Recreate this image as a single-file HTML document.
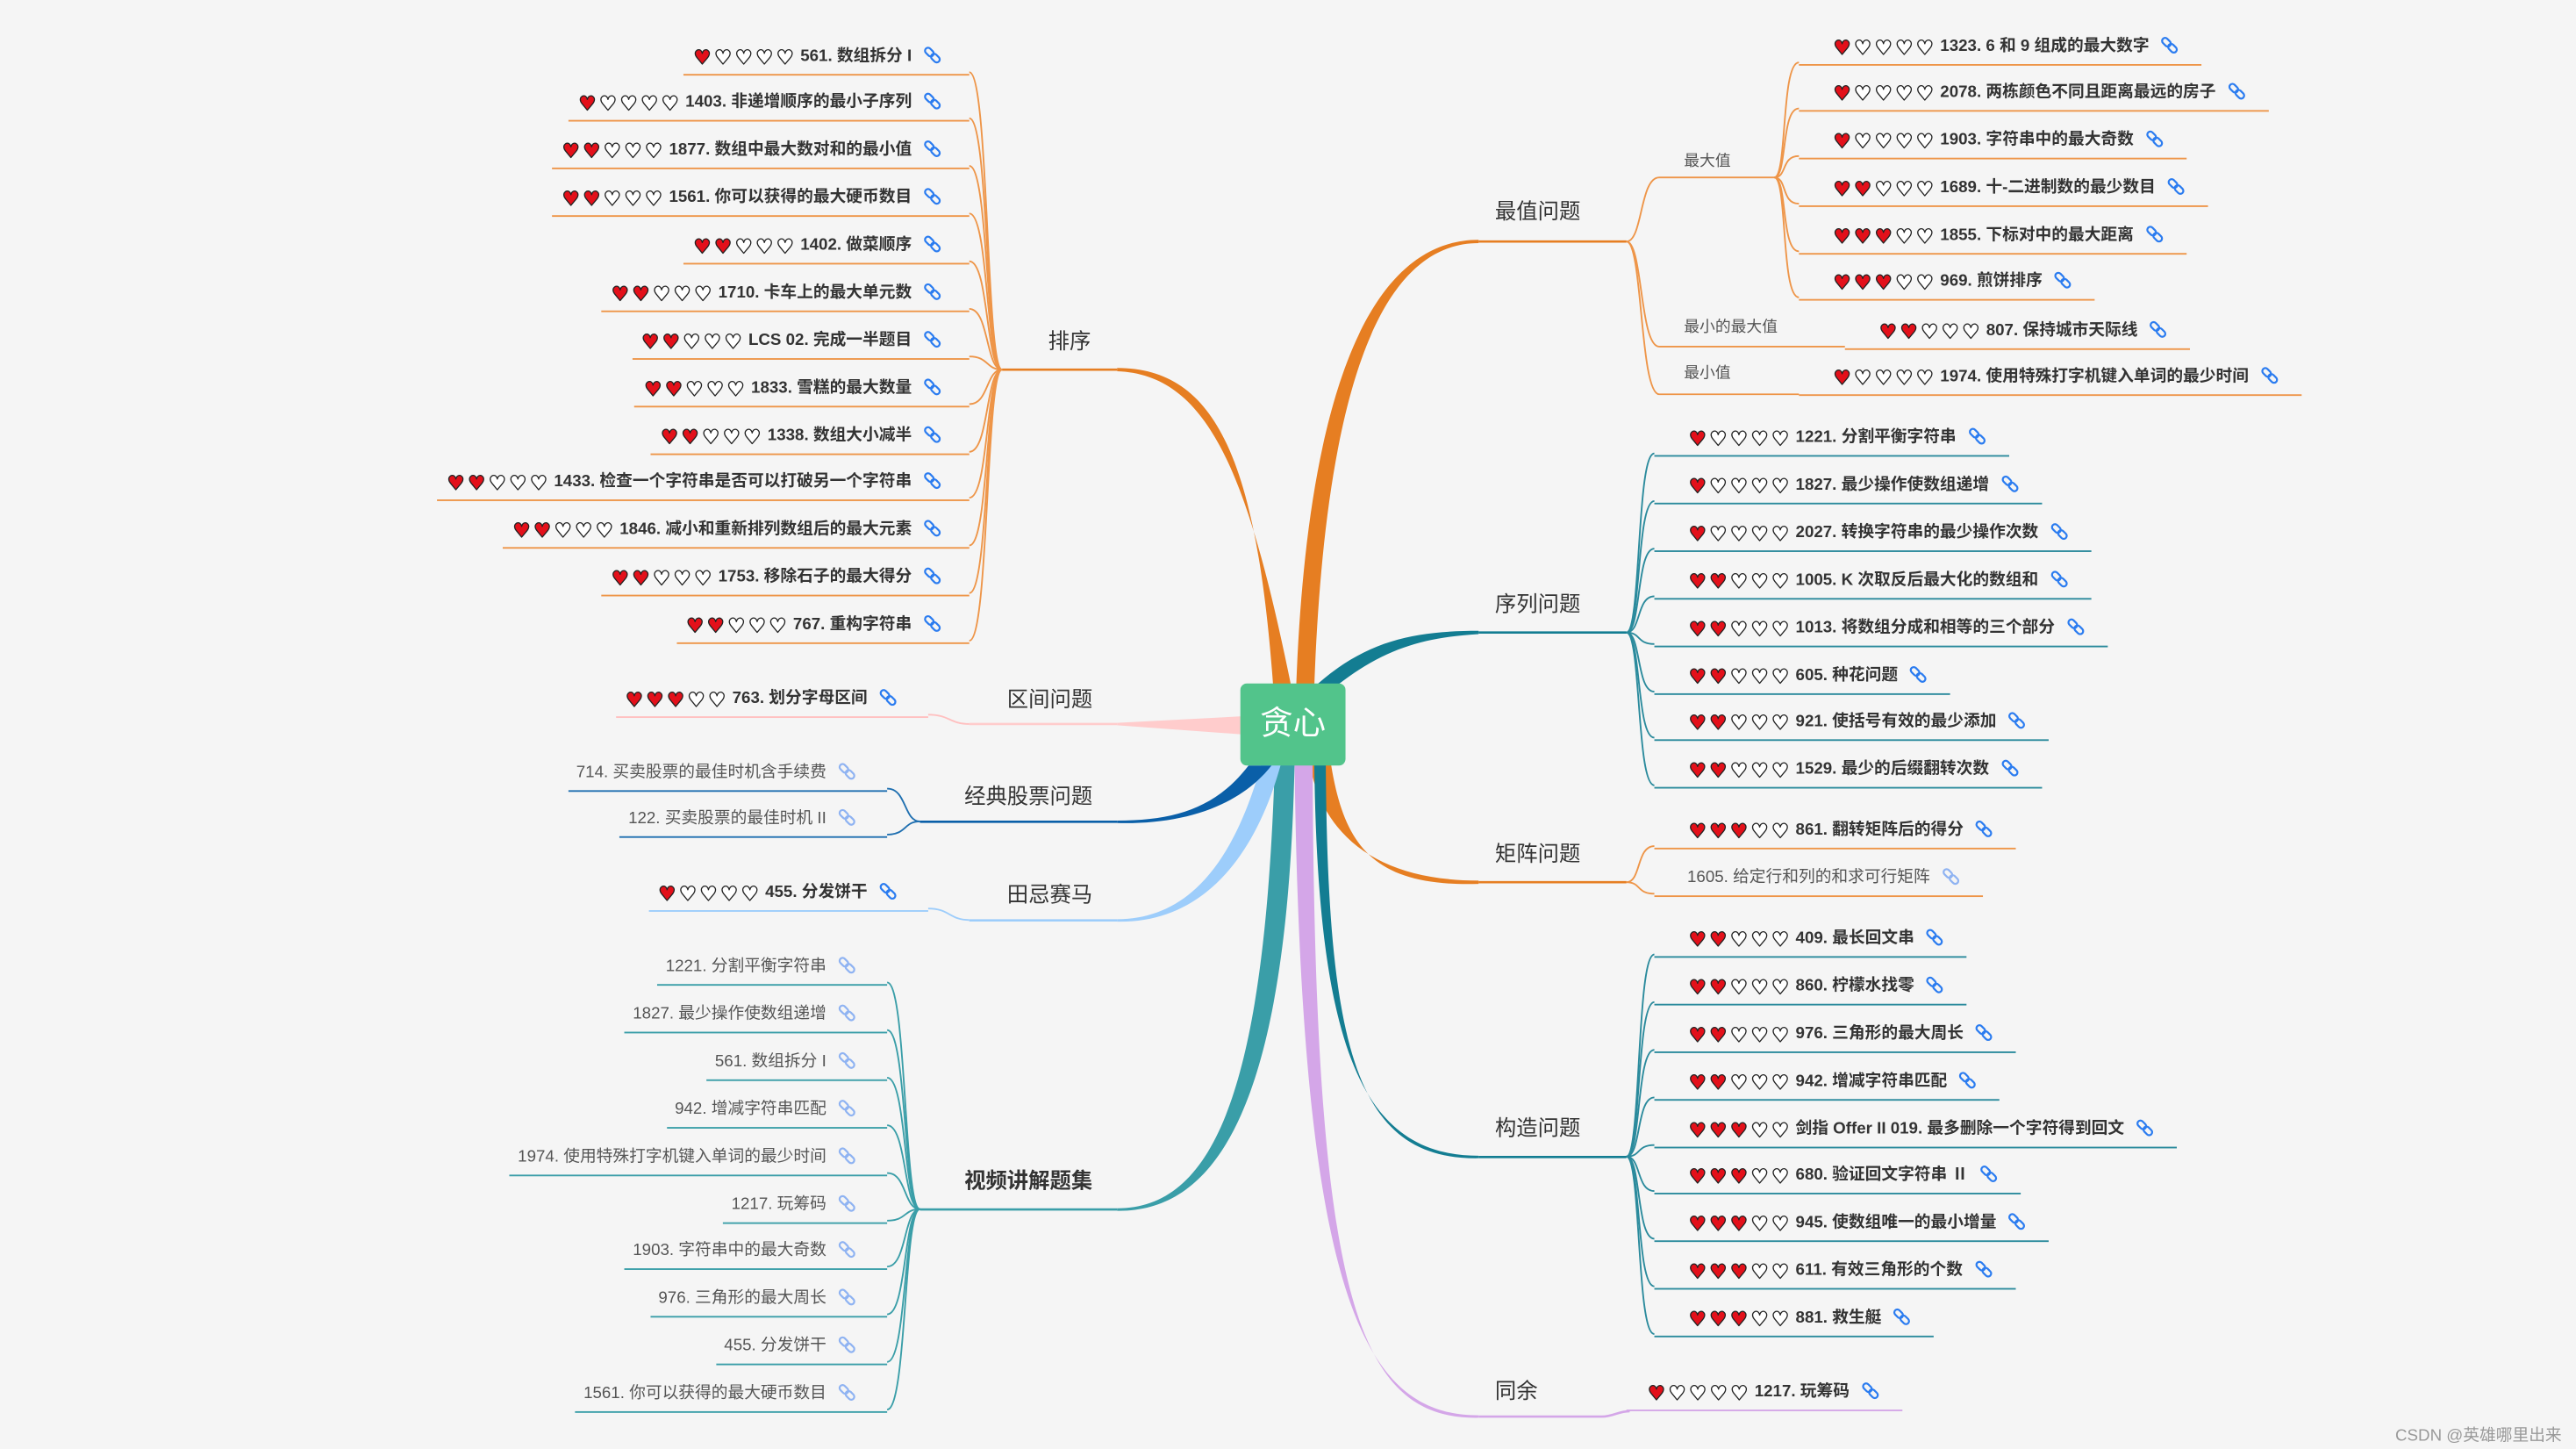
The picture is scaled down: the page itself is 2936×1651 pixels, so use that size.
<!DOCTYPE html>
<html><head><meta charset="utf-8">
<style>
html,body{margin:0;padding:0;background:#f5f5f5;width:2936px;height:1651px;overflow:hidden}
#c{position:relative;width:1568px;height:882px;transform:scale(1.87245,1.87188);transform-origin:0 0;font-family:"Liberation Sans","Noto Sans CJK SC",sans-serif}
svg.m{position:absolute;left:0;top:0}
.r,.l{position:absolute;margin-top:1.5px;white-space:nowrap;font-size:10px;line-height:14px;height:14px;color:#333;font-weight:bold;border-bottom:1px solid #ee9548}
.r{padding:0 14px 3px 20px}
.l{padding:0 17px 3px 5px;text-align:right}
.p{font-weight:normal;color:#555}
i{font-style:normal;display:inline-block;width:12.6px;text-align:center;font-family:"DejaVu Sans",sans-serif;font-size:12px;line-height:14px;color:#fff;-webkit-text-stroke:.7px #222;vertical-align:top}
i.a{color:#e3101a}
.t{margin-left:3px}
svg.k{width:11px;height:11px;margin-left:7px;vertical-align:-2px}
svg.k g{fill:none;stroke:#2b7cf0;stroke-width:1.3}
.p svg.k g{stroke:#8fb3f2}
.tp{position:absolute;font-size:13px;color:#333;white-space:nowrap;line-height:16px}
.sl{position:absolute;font-size:9.5px;color:#555;white-space:nowrap;line-height:12px}
.tl{border-color:#2a8a9c}.bl{border-color:#1f6fb0}.vl{border-color:#3a9ea8}.ll{border-color:#9dcdfb}.pk{border-color:#ffc0c0}
</style></head><body><div id="c">
<svg class="m" width="1568" height="882" viewBox="0 0 1568 882">
<path d="M775,418 C765,280 740,224 680,224 L680,226 C736,228 760,290 786,418 Z" fill="#e67e22"/>
<path d="M789,418 C795,250 830,146 900,146 L900,148 C836,148 806,250 800,418 Z" fill="#e67e22"/>
<path d="M798,420 C830,390 860,384 900,384 L900,386 C866,388 840,395 808,422 Z" fill="#137d92"/>
<path d="M797,464 C805,510 840,536 900,536 L900,538 C836,540 818,515 810,464 Z" fill="#e67e22"/>
<path d="M800,464 C802,640 830,703.5 900,703.5 L900,705 C826,706 808,640 807,464 Z" fill="#137d92"/>
<path d="M788,464 C792,790 830,861.5 900,861.5 L900,863 C826,864 800,790 799,464 Z" fill="#d4a6e8"/>
<path d="M776,464 C770,660 740,735.5 680,735.5 L680,737 C746,738 784,660 788,464 Z" fill="#3a9ea8"/>
<path d="M768,464 C750,530 720,559.5 680,559.5 L680,561 C726,562 762,530 780,464 Z" fill="#9dcdfb"/>
<path d="M760,466 C740,492 715,499.5 680,499.5 L680,501 C722,502 755,490 774,466 Z" fill="#0a5fa8"/>
<path d="M756,436 L680,440 L680,441.5 L756,447 Z" fill="#ffcccc"/>
<g fill="none" stroke-width="1.4">
<line x1="900" y1="147" x2="990" y2="147" stroke="#e67e22"/>
<line x1="900" y1="385" x2="990" y2="385" stroke="#137d92"/>
<line x1="900" y1="537" x2="990" y2="537" stroke="#e67e22"/>
<line x1="900" y1="704.3" x2="990" y2="704.3" stroke="#137d92"/>
<path d="M900,862.3 L975,862.3 C982,862.3 985,859 992,859" stroke="#d4a6e8"/>
<line x1="610" y1="225" x2="680" y2="225" stroke="#e67e22"/>
<line x1="590" y1="440.7" x2="680" y2="440.7" stroke="#ffcccc"/>
<line x1="560" y1="500.2" x2="680" y2="500.2" stroke="#0a5fa8"/>
<line x1="590" y1="560.2" x2="680" y2="560.2" stroke="#9dcdfb"/>
<line x1="560" y1="736.2" x2="680" y2="736.2" stroke="#3a9ea8"/>
</g>
<g fill="none" stroke="#ee9548" stroke-width="1">
<path d="M990,147 C1000,147 998,108 1010,108 L1080,108"/>
<path d="M990,147 C1000,147 998,211 1010,211 L1123,211"/>
<path d="M990,147 C1000,147 998,240 1010,240 L1095,240"/>
<path d="M1080,108 C1088,108 1084,38 1095,38"/>
<path d="M1080,108 C1088,108 1084,66 1095,66"/>
<path d="M1080,108 C1088,108 1084,95 1095,95"/>
<path d="M1080,108 C1088,108 1084,124 1095,124"/>
<path d="M1080,108 C1088,108 1084,153 1095,153"/>
<path d="M1080,108 C1088,108 1084,181 1095,181"/>
<path d="M990,537 C999,537 996,515 1007,515"/>
<path d="M990,537 C999,537 996,544 1007,544"/>
<path d="M610,225 C600,225 602,44 590,44"/>
<path d="M610,225 C600,225 602,72 590,72"/>
<path d="M610,225 C600,225 602,101 590,101"/>
<path d="M610,225 C600,225 602,130 590,130"/>
<path d="M610,225 C600,225 602,159 590,159"/>
<path d="M610,225 C600,225 602,188 590,188"/>
<path d="M610,225 C600,225 602,217 590,217"/>
<path d="M610,225 C600,225 602,246 590,246"/>
<path d="M610,225 C600,225 602,275 590,275"/>
<path d="M610,225 C600,225 602,303 590,303"/>
<path d="M610,225 C600,225 602,332 590,332"/>
<path d="M610,225 C600,225 602,361 590,361"/>
<path d="M610,225 C600,225 602,390 590,390"/>
</g>
<g fill="none" stroke="#2a8a9c" stroke-width="1">
<path d="M990,385 C999,385 996,276 1007,276"/>
<path d="M990,385 C999,385 996,305 1007,305"/>
<path d="M990,385 C999,385 996,334 1007,334"/>
<path d="M990,385 C999,385 996,363 1007,363"/>
<path d="M990,385 C999,385 996,392 1007,392"/>
<path d="M990,385 C999,385 996,421 1007,421"/>
<path d="M990,385 C999,385 996,449 1007,449"/>
<path d="M990,385 C999,385 996,478 1007,478"/>
<path d="M990,704 C999,704 996,581 1007,581"/>
<path d="M990,704 C999,704 996,610 1007,610"/>
<path d="M990,704 C999,704 996,639 1007,639"/>
<path d="M990,704 C999,704 996,668 1007,668"/>
<path d="M990,704 C999,704 996,697 1007,697"/>
<path d="M990,704 C999,704 996,725 1007,725"/>
<path d="M990,704 C999,704 996,754 1007,754"/>
<path d="M990,704 C999,704 996,783 1007,783"/>
<path d="M990,704 C999,704 996,812 1007,812"/>
</g>
<g fill="none" stroke="#3a9ea8" stroke-width="1">
<path d="M560,736 C550,736 552,598 540,598"/>
<path d="M560,736 C550,736 552,627 540,627"/>
<path d="M560,736 C550,736 552,656 540,656"/>
<path d="M560,736 C550,736 552,685 540,685"/>
<path d="M560,736 C550,736 552,714 540,714"/>
<path d="M560,736 C550,736 552,743 540,743"/>
<path d="M560,736 C550,736 552,771 540,771"/>
<path d="M560,736 C550,736 552,800 540,800"/>
<path d="M560,736 C550,736 552,829 540,829"/>
<path d="M560,736 C550,736 552,858 540,858"/>
</g>
<g fill="none" stroke-width="1">
<path d="M560,500 C550,500 552,480 540,480" stroke="#1f6fb0"/>
<path d="M560,500 C550,500 552,508 540,508" stroke="#1f6fb0"/>
<path d="M590,440.7 C578,440.7 578,435 565,435" stroke="#ffc0c0"/>
<path d="M590,560 C578,560 578,553 565,553" stroke="#9dcdfb"/>
</g>
</svg>

<div style="position:absolute;left:755px;top:416px;width:64px;height:50px;background:#52c48b;border-radius:4px;color:#fff;font-size:20px;line-height:50px;text-align:center">贪心</div>

<div class="tp" style="left:910px;top:121px">最值问题</div>
<div class="tp" style="left:910px;top:360px">序列问题</div>
<div class="tp" style="left:910px;top:512px">矩阵问题</div>
<div class="tp" style="left:910px;top:679px">构造问题</div>
<div class="tp" style="left:910px;top:839px">同余</div>
<div class="tp" style="left:638px;top:200px">排序</div>
<div class="tp" style="left:613px;top:418px">区间问题</div>
<div class="tp" style="left:587px;top:477px">经典股票问题</div>
<div class="tp" style="left:613px;top:537px">田忌赛马</div>
<div class="tp" style="left:587px;top:711px;font-weight:bold">视频讲解题集</div>
<div class="sl" style="left:1025px;top:93px">最大值</div>
<div class="sl" style="left:1025px;top:194px">最小的最大值</div>
<div class="sl" style="left:1025px;top:222px">最小值</div>

<div class="r" style="left:1095px;top:20px"><i class=a>♥</i><i>♥</i><i>♥</i><i>♥</i><i>♥</i><span class=t>1323. 6 和 9 组成的最大数字</span><svg class="k" viewBox="0 0 12 12"><g><rect x="2" y="0.8" width="4" height="6.5" rx="2" transform="rotate(-45 4 4)"/><rect x="6" y="4.8" width="4" height="6.5" rx="2" transform="rotate(-45 8 8)"/></g></svg></div>
<div class="r" style="left:1095px;top:48px"><i class=a>♥</i><i>♥</i><i>♥</i><i>♥</i><i>♥</i><span class=t>2078. 两栋颜色不同且距离最远的房子</span><svg class="k" viewBox="0 0 12 12"><g><rect x="2" y="0.8" width="4" height="6.5" rx="2" transform="rotate(-45 4 4)"/><rect x="6" y="4.8" width="4" height="6.5" rx="2" transform="rotate(-45 8 8)"/></g></svg></div>
<div class="r" style="left:1095px;top:77px"><i class=a>♥</i><i>♥</i><i>♥</i><i>♥</i><i>♥</i><span class=t>1903. 字符串中的最大奇数</span><svg class="k" viewBox="0 0 12 12"><g><rect x="2" y="0.8" width="4" height="6.5" rx="2" transform="rotate(-45 4 4)"/><rect x="6" y="4.8" width="4" height="6.5" rx="2" transform="rotate(-45 8 8)"/></g></svg></div>
<div class="r" style="left:1095px;top:106px"><i class=a>♥</i><i class=a>♥</i><i>♥</i><i>♥</i><i>♥</i><span class=t>1689. 十-二进制数的最少数目</span><svg class="k" viewBox="0 0 12 12"><g><rect x="2" y="0.8" width="4" height="6.5" rx="2" transform="rotate(-45 4 4)"/><rect x="6" y="4.8" width="4" height="6.5" rx="2" transform="rotate(-45 8 8)"/></g></svg></div>
<div class="r" style="left:1095px;top:135px"><i class=a>♥</i><i class=a>♥</i><i class=a>♥</i><i>♥</i><i>♥</i><span class=t>1855. 下标对中的最大距离</span><svg class="k" viewBox="0 0 12 12"><g><rect x="2" y="0.8" width="4" height="6.5" rx="2" transform="rotate(-45 4 4)"/><rect x="6" y="4.8" width="4" height="6.5" rx="2" transform="rotate(-45 8 8)"/></g></svg></div>
<div class="r" style="left:1095px;top:163px"><i class=a>♥</i><i class=a>♥</i><i class=a>♥</i><i>♥</i><i>♥</i><span class=t>969. 煎饼排序</span><svg class="k" viewBox="0 0 12 12"><g><rect x="2" y="0.8" width="4" height="6.5" rx="2" transform="rotate(-45 4 4)"/><rect x="6" y="4.8" width="4" height="6.5" rx="2" transform="rotate(-45 8 8)"/></g></svg></div>
<div class="r" style="left:1123px;top:193px"><i class=a>♥</i><i class=a>♥</i><i>♥</i><i>♥</i><i>♥</i><span class=t>807. 保持城市天际线</span><svg class="k" viewBox="0 0 12 12"><g><rect x="2" y="0.8" width="4" height="6.5" rx="2" transform="rotate(-45 4 4)"/><rect x="6" y="4.8" width="4" height="6.5" rx="2" transform="rotate(-45 8 8)"/></g></svg></div>
<div class="r" style="left:1095px;top:221px"><i class=a>♥</i><i>♥</i><i>♥</i><i>♥</i><i>♥</i><span class=t>1974. 使用特殊打字机键入单词的最少时间</span><svg class="k" viewBox="0 0 12 12"><g><rect x="2" y="0.8" width="4" height="6.5" rx="2" transform="rotate(-45 4 4)"/><rect x="6" y="4.8" width="4" height="6.5" rx="2" transform="rotate(-45 8 8)"/></g></svg></div>

<div class="r tl" style="left:1007px;top:258px"><i class=a>♥</i><i>♥</i><i>♥</i><i>♥</i><i>♥</i><span class=t>1221. 分割平衡字符串</span><svg class="k" viewBox="0 0 12 12"><g><rect x="2" y="0.8" width="4" height="6.5" rx="2" transform="rotate(-45 4 4)"/><rect x="6" y="4.8" width="4" height="6.5" rx="2" transform="rotate(-45 8 8)"/></g></svg></div>
<div class="r tl" style="left:1007px;top:287px"><i class=a>♥</i><i>♥</i><i>♥</i><i>♥</i><i>♥</i><span class=t>1827. 最少操作使数组递增</span><svg class="k" viewBox="0 0 12 12"><g><rect x="2" y="0.8" width="4" height="6.5" rx="2" transform="rotate(-45 4 4)"/><rect x="6" y="4.8" width="4" height="6.5" rx="2" transform="rotate(-45 8 8)"/></g></svg></div>
<div class="r tl" style="left:1007px;top:316px"><i class=a>♥</i><i>♥</i><i>♥</i><i>♥</i><i>♥</i><span class=t>2027. 转换字符串的最少操作次数</span><svg class="k" viewBox="0 0 12 12"><g><rect x="2" y="0.8" width="4" height="6.5" rx="2" transform="rotate(-45 4 4)"/><rect x="6" y="4.8" width="4" height="6.5" rx="2" transform="rotate(-45 8 8)"/></g></svg></div>
<div class="r tl" style="left:1007px;top:345px"><i class=a>♥</i><i class=a>♥</i><i>♥</i><i>♥</i><i>♥</i><span class=t>1005. K 次取反后最大化的数组和</span><svg class="k" viewBox="0 0 12 12"><g><rect x="2" y="0.8" width="4" height="6.5" rx="2" transform="rotate(-45 4 4)"/><rect x="6" y="4.8" width="4" height="6.5" rx="2" transform="rotate(-45 8 8)"/></g></svg></div>
<div class="r tl" style="left:1007px;top:374px"><i class=a>♥</i><i class=a>♥</i><i>♥</i><i>♥</i><i>♥</i><span class=t>1013. 将数组分成和相等的三个部分</span><svg class="k" viewBox="0 0 12 12"><g><rect x="2" y="0.8" width="4" height="6.5" rx="2" transform="rotate(-45 4 4)"/><rect x="6" y="4.8" width="4" height="6.5" rx="2" transform="rotate(-45 8 8)"/></g></svg></div>
<div class="r tl" style="left:1007px;top:403px"><i class=a>♥</i><i class=a>♥</i><i>♥</i><i>♥</i><i>♥</i><span class=t>605. 种花问题</span><svg class="k" viewBox="0 0 12 12"><g><rect x="2" y="0.8" width="4" height="6.5" rx="2" transform="rotate(-45 4 4)"/><rect x="6" y="4.8" width="4" height="6.5" rx="2" transform="rotate(-45 8 8)"/></g></svg></div>
<div class="r tl" style="left:1007px;top:431px"><i class=a>♥</i><i class=a>♥</i><i>♥</i><i>♥</i><i>♥</i><span class=t>921. 使括号有效的最少添加</span><svg class="k" viewBox="0 0 12 12"><g><rect x="2" y="0.8" width="4" height="6.5" rx="2" transform="rotate(-45 4 4)"/><rect x="6" y="4.8" width="4" height="6.5" rx="2" transform="rotate(-45 8 8)"/></g></svg></div>
<div class="r tl" style="left:1007px;top:460px"><i class=a>♥</i><i class=a>♥</i><i>♥</i><i>♥</i><i>♥</i><span class=t>1529. 最少的后缀翻转次数</span><svg class="k" viewBox="0 0 12 12"><g><rect x="2" y="0.8" width="4" height="6.5" rx="2" transform="rotate(-45 4 4)"/><rect x="6" y="4.8" width="4" height="6.5" rx="2" transform="rotate(-45 8 8)"/></g></svg></div>

<div class="r" style="left:1007px;top:497px"><i class=a>♥</i><i class=a>♥</i><i class=a>♥</i><i>♥</i><i>♥</i><span class=t>861. 翻转矩阵后的得分</span><svg class="k" viewBox="0 0 12 12"><g><rect x="2" y="0.8" width="4" height="6.5" rx="2" transform="rotate(-45 4 4)"/><rect x="6" y="4.8" width="4" height="6.5" rx="2" transform="rotate(-45 8 8)"/></g></svg></div>
<div class="r p" style="left:1007px;top:526px">1605. 给定行和列的和求可行矩阵<svg class="k" viewBox="0 0 12 12"><g><rect x="2" y="0.8" width="4" height="6.5" rx="2" transform="rotate(-45 4 4)"/><rect x="6" y="4.8" width="4" height="6.5" rx="2" transform="rotate(-45 8 8)"/></g></svg></div>

<div class="r tl" style="left:1007px;top:563px"><i class=a>♥</i><i class=a>♥</i><i>♥</i><i>♥</i><i>♥</i><span class=t>409. 最长回文串</span><svg class="k" viewBox="0 0 12 12"><g><rect x="2" y="0.8" width="4" height="6.5" rx="2" transform="rotate(-45 4 4)"/><rect x="6" y="4.8" width="4" height="6.5" rx="2" transform="rotate(-45 8 8)"/></g></svg></div>
<div class="r tl" style="left:1007px;top:592px"><i class=a>♥</i><i class=a>♥</i><i>♥</i><i>♥</i><i>♥</i><span class=t>860. 柠檬水找零</span><svg class="k" viewBox="0 0 12 12"><g><rect x="2" y="0.8" width="4" height="6.5" rx="2" transform="rotate(-45 4 4)"/><rect x="6" y="4.8" width="4" height="6.5" rx="2" transform="rotate(-45 8 8)"/></g></svg></div>
<div class="r tl" style="left:1007px;top:621px"><i class=a>♥</i><i class=a>♥</i><i>♥</i><i>♥</i><i>♥</i><span class=t>976. 三角形的最大周长</span><svg class="k" viewBox="0 0 12 12"><g><rect x="2" y="0.8" width="4" height="6.5" rx="2" transform="rotate(-45 4 4)"/><rect x="6" y="4.8" width="4" height="6.5" rx="2" transform="rotate(-45 8 8)"/></g></svg></div>
<div class="r tl" style="left:1007px;top:650px"><i class=a>♥</i><i class=a>♥</i><i>♥</i><i>♥</i><i>♥</i><span class=t>942. 增减字符串匹配</span><svg class="k" viewBox="0 0 12 12"><g><rect x="2" y="0.8" width="4" height="6.5" rx="2" transform="rotate(-45 4 4)"/><rect x="6" y="4.8" width="4" height="6.5" rx="2" transform="rotate(-45 8 8)"/></g></svg></div>
<div class="r tl" style="left:1007px;top:679px"><i class=a>♥</i><i class=a>♥</i><i class=a>♥</i><i>♥</i><i>♥</i><span class=t>剑指 Offer II 019. 最多删除一个字符得到回文</span><svg class="k" viewBox="0 0 12 12"><g><rect x="2" y="0.8" width="4" height="6.5" rx="2" transform="rotate(-45 4 4)"/><rect x="6" y="4.8" width="4" height="6.5" rx="2" transform="rotate(-45 8 8)"/></g></svg></div>
<div class="r tl" style="left:1007px;top:707px"><i class=a>♥</i><i class=a>♥</i><i class=a>♥</i><i>♥</i><i>♥</i><span class=t>680. 验证回文字符串 Ⅱ</span><svg class="k" viewBox="0 0 12 12"><g><rect x="2" y="0.8" width="4" height="6.5" rx="2" transform="rotate(-45 4 4)"/><rect x="6" y="4.8" width="4" height="6.5" rx="2" transform="rotate(-45 8 8)"/></g></svg></div>
<div class="r tl" style="left:1007px;top:736px"><i class=a>♥</i><i class=a>♥</i><i class=a>♥</i><i>♥</i><i>♥</i><span class=t>945. 使数组唯一的最小增量</span><svg class="k" viewBox="0 0 12 12"><g><rect x="2" y="0.8" width="4" height="6.5" rx="2" transform="rotate(-45 4 4)"/><rect x="6" y="4.8" width="4" height="6.5" rx="2" transform="rotate(-45 8 8)"/></g></svg></div>
<div class="r tl" style="left:1007px;top:765px"><i class=a>♥</i><i class=a>♥</i><i class=a>♥</i><i>♥</i><i>♥</i><span class=t>611. 有效三角形的个数</span><svg class="k" viewBox="0 0 12 12"><g><rect x="2" y="0.8" width="4" height="6.5" rx="2" transform="rotate(-45 4 4)"/><rect x="6" y="4.8" width="4" height="6.5" rx="2" transform="rotate(-45 8 8)"/></g></svg></div>
<div class="r tl" style="left:1007px;top:794px"><i class=a>♥</i><i class=a>♥</i><i class=a>♥</i><i>♥</i><i>♥</i><span class=t>881. 救生艇</span><svg class="k" viewBox="0 0 12 12"><g><rect x="2" y="0.8" width="4" height="6.5" rx="2" transform="rotate(-45 4 4)"/><rect x="6" y="4.8" width="4" height="6.5" rx="2" transform="rotate(-45 8 8)"/></g></svg></div>

<div class="r" style="left:990px;top:839px;padding-left:12px;border-color:#d4a6e8"><i class=a>♥</i><i>♥</i><i>♥</i><i>♥</i><i>♥</i><span class=t>1217. 玩筹码</span><svg class="k" viewBox="0 0 12 12"><g><rect x="2" y="0.8" width="4" height="6.5" rx="2" transform="rotate(-45 4 4)"/><rect x="6" y="4.8" width="4" height="6.5" rx="2" transform="rotate(-45 8 8)"/></g></svg></div>

<div class="l" style="right:978px;top:26px"><i class=a>♥</i><i>♥</i><i>♥</i><i>♥</i><i>♥</i><span class=t>561. 数组拆分 I</span><svg class="k" viewBox="0 0 12 12"><g><rect x="2" y="0.8" width="4" height="6.5" rx="2" transform="rotate(-45 4 4)"/><rect x="6" y="4.8" width="4" height="6.5" rx="2" transform="rotate(-45 8 8)"/></g></svg></div>
<div class="l" style="right:978px;top:54px"><i class=a>♥</i><i>♥</i><i>♥</i><i>♥</i><i>♥</i><span class=t>1403. 非递增顺序的最小子序列</span><svg class="k" viewBox="0 0 12 12"><g><rect x="2" y="0.8" width="4" height="6.5" rx="2" transform="rotate(-45 4 4)"/><rect x="6" y="4.8" width="4" height="6.5" rx="2" transform="rotate(-45 8 8)"/></g></svg></div>
<div class="l" style="right:978px;top:83px"><i class=a>♥</i><i class=a>♥</i><i>♥</i><i>♥</i><i>♥</i><span class=t>1877. 数组中最大数对和的最小值</span><svg class="k" viewBox="0 0 12 12"><g><rect x="2" y="0.8" width="4" height="6.5" rx="2" transform="rotate(-45 4 4)"/><rect x="6" y="4.8" width="4" height="6.5" rx="2" transform="rotate(-45 8 8)"/></g></svg></div>
<div class="l" style="right:978px;top:112px"><i class=a>♥</i><i class=a>♥</i><i>♥</i><i>♥</i><i>♥</i><span class=t>1561. 你可以获得的最大硬币数目</span><svg class="k" viewBox="0 0 12 12"><g><rect x="2" y="0.8" width="4" height="6.5" rx="2" transform="rotate(-45 4 4)"/><rect x="6" y="4.8" width="4" height="6.5" rx="2" transform="rotate(-45 8 8)"/></g></svg></div>
<div class="l" style="right:978px;top:141px"><i class=a>♥</i><i class=a>♥</i><i>♥</i><i>♥</i><i>♥</i><span class=t>1402. 做菜顺序</span><svg class="k" viewBox="0 0 12 12"><g><rect x="2" y="0.8" width="4" height="6.5" rx="2" transform="rotate(-45 4 4)"/><rect x="6" y="4.8" width="4" height="6.5" rx="2" transform="rotate(-45 8 8)"/></g></svg></div>
<div class="l" style="right:978px;top:170px"><i class=a>♥</i><i class=a>♥</i><i>♥</i><i>♥</i><i>♥</i><span class=t>1710. 卡车上的最大单元数</span><svg class="k" viewBox="0 0 12 12"><g><rect x="2" y="0.8" width="4" height="6.5" rx="2" transform="rotate(-45 4 4)"/><rect x="6" y="4.8" width="4" height="6.5" rx="2" transform="rotate(-45 8 8)"/></g></svg></div>
<div class="l" style="right:978px;top:199px"><i class=a>♥</i><i class=a>♥</i><i>♥</i><i>♥</i><i>♥</i><span class=t>LCS 02. 完成一半题目</span><svg class="k" viewBox="0 0 12 12"><g><rect x="2" y="0.8" width="4" height="6.5" rx="2" transform="rotate(-45 4 4)"/><rect x="6" y="4.8" width="4" height="6.5" rx="2" transform="rotate(-45 8 8)"/></g></svg></div>
<div class="l" style="right:978px;top:228px"><i class=a>♥</i><i class=a>♥</i><i>♥</i><i>♥</i><i>♥</i><span class=t>1833. 雪糕的最大数量</span><svg class="k" viewBox="0 0 12 12"><g><rect x="2" y="0.8" width="4" height="6.5" rx="2" transform="rotate(-45 4 4)"/><rect x="6" y="4.8" width="4" height="6.5" rx="2" transform="rotate(-45 8 8)"/></g></svg></div>
<div class="l" style="right:978px;top:257px"><i class=a>♥</i><i class=a>♥</i><i>♥</i><i>♥</i><i>♥</i><span class=t>1338. 数组大小减半</span><svg class="k" viewBox="0 0 12 12"><g><rect x="2" y="0.8" width="4" height="6.5" rx="2" transform="rotate(-45 4 4)"/><rect x="6" y="4.8" width="4" height="6.5" rx="2" transform="rotate(-45 8 8)"/></g></svg></div>
<div class="l" style="right:978px;top:285px"><i class=a>♥</i><i class=a>♥</i><i>♥</i><i>♥</i><i>♥</i><span class=t>1433. 检查一个字符串是否可以打破另一个字符串</span><svg class="k" viewBox="0 0 12 12"><g><rect x="2" y="0.8" width="4" height="6.5" rx="2" transform="rotate(-45 4 4)"/><rect x="6" y="4.8" width="4" height="6.5" rx="2" transform="rotate(-45 8 8)"/></g></svg></div>
<div class="l" style="right:978px;top:314px"><i class=a>♥</i><i class=a>♥</i><i>♥</i><i>♥</i><i>♥</i><span class=t>1846. 减小和重新排列数组后的最大元素</span><svg class="k" viewBox="0 0 12 12"><g><rect x="2" y="0.8" width="4" height="6.5" rx="2" transform="rotate(-45 4 4)"/><rect x="6" y="4.8" width="4" height="6.5" rx="2" transform="rotate(-45 8 8)"/></g></svg></div>
<div class="l" style="right:978px;top:343px"><i class=a>♥</i><i class=a>♥</i><i>♥</i><i>♥</i><i>♥</i><span class=t>1753. 移除石子的最大得分</span><svg class="k" viewBox="0 0 12 12"><g><rect x="2" y="0.8" width="4" height="6.5" rx="2" transform="rotate(-45 4 4)"/><rect x="6" y="4.8" width="4" height="6.5" rx="2" transform="rotate(-45 8 8)"/></g></svg></div>
<div class="l" style="right:978px;top:372px"><i class=a>♥</i><i class=a>♥</i><i>♥</i><i>♥</i><i>♥</i><span class=t>767. 重构字符串</span><svg class="k" viewBox="0 0 12 12"><g><rect x="2" y="0.8" width="4" height="6.5" rx="2" transform="rotate(-45 4 4)"/><rect x="6" y="4.8" width="4" height="6.5" rx="2" transform="rotate(-45 8 8)"/></g></svg></div>

<div class="l pk" style="right:1003px;top:417px;padding-right:19px"><i class=a>♥</i><i class=a>♥</i><i class=a>♥</i><i>♥</i><i>♥</i><span class=t>763. 划分字母区间</span><svg class="k" viewBox="0 0 12 12"><g><rect x="2" y="0.8" width="4" height="6.5" rx="2" transform="rotate(-45 4 4)"/><rect x="6" y="4.8" width="4" height="6.5" rx="2" transform="rotate(-45 8 8)"/></g></svg></div>

<div class="l p bl" style="right:1028px;top:462px;padding-right:19px">714. 买卖股票的最佳时机含手续费<svg class="k" viewBox="0 0 12 12"><g><rect x="2" y="0.8" width="4" height="6.5" rx="2" transform="rotate(-45 4 4)"/><rect x="6" y="4.8" width="4" height="6.5" rx="2" transform="rotate(-45 8 8)"/></g></svg></div>
<div class="l p bl" style="right:1028px;top:490px;padding-right:19px">122. 买卖股票的最佳时机 II<svg class="k" viewBox="0 0 12 12"><g><rect x="2" y="0.8" width="4" height="6.5" rx="2" transform="rotate(-45 4 4)"/><rect x="6" y="4.8" width="4" height="6.5" rx="2" transform="rotate(-45 8 8)"/></g></svg></div>

<div class="l ll" style="right:1003px;top:535px;padding-right:19px"><i class=a>♥</i><i>♥</i><i>♥</i><i>♥</i><i>♥</i><span class=t>455. 分发饼干</span><svg class="k" viewBox="0 0 12 12"><g><rect x="2" y="0.8" width="4" height="6.5" rx="2" transform="rotate(-45 4 4)"/><rect x="6" y="4.8" width="4" height="6.5" rx="2" transform="rotate(-45 8 8)"/></g></svg></div>

<div class="l p vl" style="right:1028px;top:580px;padding-right:19px">1221. 分割平衡字符串<svg class="k" viewBox="0 0 12 12"><g><rect x="2" y="0.8" width="4" height="6.5" rx="2" transform="rotate(-45 4 4)"/><rect x="6" y="4.8" width="4" height="6.5" rx="2" transform="rotate(-45 8 8)"/></g></svg></div>
<div class="l p vl" style="right:1028px;top:609px;padding-right:19px">1827. 最少操作使数组递增<svg class="k" viewBox="0 0 12 12"><g><rect x="2" y="0.8" width="4" height="6.5" rx="2" transform="rotate(-45 4 4)"/><rect x="6" y="4.8" width="4" height="6.5" rx="2" transform="rotate(-45 8 8)"/></g></svg></div>
<div class="l p vl" style="right:1028px;top:638px;padding-right:19px">561. 数组拆分 I<svg class="k" viewBox="0 0 12 12"><g><rect x="2" y="0.8" width="4" height="6.5" rx="2" transform="rotate(-45 4 4)"/><rect x="6" y="4.8" width="4" height="6.5" rx="2" transform="rotate(-45 8 8)"/></g></svg></div>
<div class="l p vl" style="right:1028px;top:667px;padding-right:19px">942. 增减字符串匹配<svg class="k" viewBox="0 0 12 12"><g><rect x="2" y="0.8" width="4" height="6.5" rx="2" transform="rotate(-45 4 4)"/><rect x="6" y="4.8" width="4" height="6.5" rx="2" transform="rotate(-45 8 8)"/></g></svg></div>
<div class="l p vl" style="right:1028px;top:696px;padding-right:19px">1974. 使用特殊打字机键入单词的最少时间<svg class="k" viewBox="0 0 12 12"><g><rect x="2" y="0.8" width="4" height="6.5" rx="2" transform="rotate(-45 4 4)"/><rect x="6" y="4.8" width="4" height="6.5" rx="2" transform="rotate(-45 8 8)"/></g></svg></div>
<div class="l p vl" style="right:1028px;top:725px;padding-right:19px">1217. 玩筹码<svg class="k" viewBox="0 0 12 12"><g><rect x="2" y="0.8" width="4" height="6.5" rx="2" transform="rotate(-45 4 4)"/><rect x="6" y="4.8" width="4" height="6.5" rx="2" transform="rotate(-45 8 8)"/></g></svg></div>
<div class="l p vl" style="right:1028px;top:753px;padding-right:19px">1903. 字符串中的最大奇数<svg class="k" viewBox="0 0 12 12"><g><rect x="2" y="0.8" width="4" height="6.5" rx="2" transform="rotate(-45 4 4)"/><rect x="6" y="4.8" width="4" height="6.5" rx="2" transform="rotate(-45 8 8)"/></g></svg></div>
<div class="l p vl" style="right:1028px;top:782px;padding-right:19px">976. 三角形的最大周长<svg class="k" viewBox="0 0 12 12"><g><rect x="2" y="0.8" width="4" height="6.5" rx="2" transform="rotate(-45 4 4)"/><rect x="6" y="4.8" width="4" height="6.5" rx="2" transform="rotate(-45 8 8)"/></g></svg></div>
<div class="l p vl" style="right:1028px;top:811px;padding-right:19px">455. 分发饼干<svg class="k" viewBox="0 0 12 12"><g><rect x="2" y="0.8" width="4" height="6.5" rx="2" transform="rotate(-45 4 4)"/><rect x="6" y="4.8" width="4" height="6.5" rx="2" transform="rotate(-45 8 8)"/></g></svg></div>
<div class="l p vl" style="right:1028px;top:840px;padding-right:19px">1561. 你可以获得的最大硬币数目<svg class="k" viewBox="0 0 12 12"><g><rect x="2" y="0.8" width="4" height="6.5" rx="2" transform="rotate(-45 4 4)"/><rect x="6" y="4.8" width="4" height="6.5" rx="2" transform="rotate(-45 8 8)"/></g></svg></div>

<div style="position:absolute;left:1458px;top:865px;font-size:10px;color:#999;white-space:nowrap">CSDN @英雄哪里出来</div>
</div></body></html>
